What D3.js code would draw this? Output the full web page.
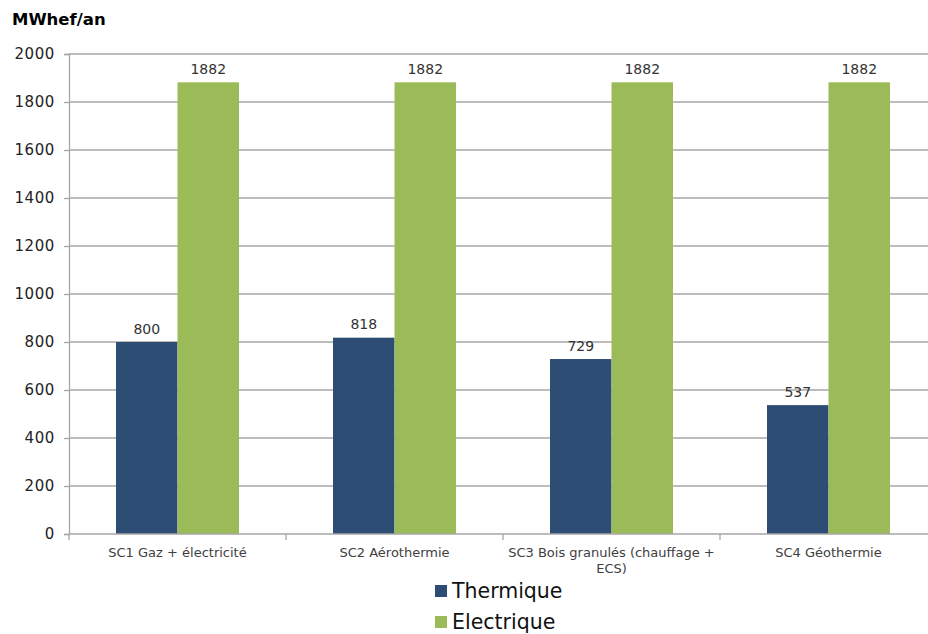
<!DOCTYPE html>
<html><head><meta charset="utf-8">
<script src="https://cdn.jsdelivr.net/npm/d3@7"></script>
<style>body{margin:0;background:#fff}svg{display:block}</style>
</head><body>
<script>
const categories = ["SC1 Gaz + électricité", "SC2 Aérothermie", "SC3 Bois granulés (chauffage + ECS)", "SC4 Géothermie"];
const seriesNames = ["Thermique", "Electrique"];
const thermique = [800, 818, 729, 537];
const electrique = [1882, 1882, 1882, 1882];
const yTicks = [0, 200, 400, 600, 800, 1000, 1200, 1400, 1600, 1800, 2000];
const colors = ["#2E4D74", "#9BBB59"];

const W = 928, H = 634;
const svg = d3.select("body").append("svg").attr("width", W).attr("height", H);
const font = "'DejaVu Sans', sans-serif";

const x0 = d3.scaleBand().domain(categories).range([69, 937]).padding(0);
const x1 = d3.scaleBand().domain(seriesNames).range([47, x0.bandwidth() - 47]).padding(0);
const y = d3.scaleLinear().domain([0, 2000]).range([534, 54]);

// gridlines
svg.append("g").selectAll("line").data(yTicks.filter(d => d > 0)).join("line")
  .attr("x1", 69).attr("x2", W).attr("y1", d => y(d)).attr("y2", d => y(d))
  .attr("stroke", "#a6a6a6").attr("stroke-width", 1.3);

// y axis
const yAxis = svg.append("g").attr("transform", "translate(69,0)")
  .call(d3.axisLeft(y).tickValues(yTicks).tickFormat(d3.format("d")).tickSize(5).tickPadding(9));
yAxis.select(".domain").attr("stroke", "#a6a6a6").attr("stroke-width", 1.3);
yAxis.selectAll(".tick line").attr("stroke", "#a6a6a6").attr("stroke-width", 1.3);
yAxis.selectAll("text").attr("font-family", font).attr("font-size", 15)
  .attr("letter-spacing", 0.6).attr("fill", "#222");

// bars
const data = categories.map((c, i) => ({c, vals: [thermique[i], electrique[i]]}));
const groups = svg.append("g").selectAll("g").data(data).join("g")
  .attr("transform", d => `translate(${x0(d.c)},0)`);
groups.selectAll("rect").data(d => d.vals.map((v, j) => ({s: seriesNames[j], v, j}))).join("rect")
  .attr("x", d => x1(d.s)).attr("width", x1.bandwidth())
  .attr("y", d => y(d.v)).attr("height", d => y(0) - y(d.v))
  .attr("fill", d => colors[d.j]);
groups.selectAll("text").data(d => d.vals.map((v, j) => ({s: seriesNames[j], v, j}))).join("text")
  .attr("x", d => x1(d.s) + x1.bandwidth() / 2).attr("y", d => y(d.v) - 8.5)
  .attr("text-anchor", "middle").attr("font-family", font).attr("font-size", 14).attr("fill", "#333")
  .text(d => d.v);

// x axis
const xAxis = svg.append("g").attr("transform", `translate(0,${y(0)})`);
xAxis.append("line").attr("x1", 69).attr("x2", W).attr("stroke", "#a6a6a6").attr("stroke-width", 1.3);
xAxis.selectAll("line.tk").data(categories).join("line").attr("class", "tk")
  .attr("x1", d => x0(d)).attr("x2", d => x0(d)).attr("y1", 0).attr("y2", 6)
  .attr("stroke", "#a6a6a6").attr("stroke-width", 1.3);
const labelLines = {"SC3 Bois granulés (chauffage + ECS)": ["SC3 Bois granulés (chauffage +", "ECS)"]};
xAxis.selectAll("text").data(categories).join("text")
  .attr("x", d => x0(d) + x0.bandwidth() / 2).attr("y", 23)
  .attr("text-anchor", "middle").attr("font-family", font).attr("font-size", 13).attr("fill", "#404040")
  .each(function(d) {
    const lines = labelLines[d] || [d];
    d3.select(this).selectAll("tspan").data(lines).join("tspan")
      .attr("x", x0(d) + x0.bandwidth() / 2).attr("dy", (l, i) => i ? 16 : 0).text(l => l);
  });

// title
svg.append("text").attr("x", 12).attr("y", 25).attr("font-family", font)
  .attr("font-weight", "bold").attr("font-size", 16.5).attr("fill", "#000").text("MWhef/an");

// legend
const lg = svg.append("g").selectAll("g").data(seriesNames).join("g")
  .attr("transform", (d, i) => `translate(435,${591 + i * 31})`);
lg.append("rect").attr("x", 0).attr("y", -6).attr("width", 12).attr("height", 12).attr("fill", (d, i) => colors[i]);
lg.append("text").attr("x", 17).attr("y", 7).attr("font-family", font).attr("font-size", 20.5)
  .attr("fill", "#111").text(d => d);
</script>
</body></html>
